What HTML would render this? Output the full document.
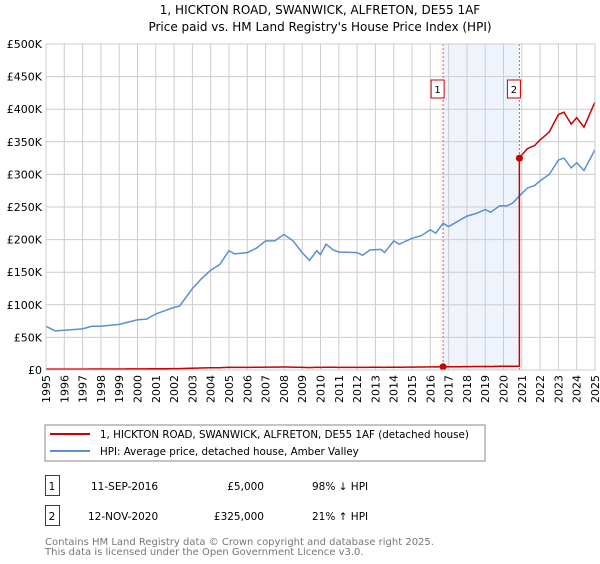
<!DOCTYPE html>
<html><head><meta charset="utf-8"><style>
body{margin:0;background:#fff;font-family:"DejaVu Sans","Liberation Sans",sans-serif;}
svg text{font-family:"DejaVu Sans","Liberation Sans",sans-serif;}
</style></head><body>
<svg id="chart" width="600" height="560" xmlns="http://www.w3.org/2000/svg">
<text x="320" y="14" font-size="12" text-anchor="middle">1, HICKTON ROAD, SWANWICK, ALFRETON, DE55 1AF</text>
<text x="320" y="31" font-size="12" text-anchor="middle">Price paid vs. HM Land Registry's House Price Index (HPI)</text>
<g id="plot"></g>
<g>
<rect x="45" y="425" width="440" height="36" fill="#fff" stroke="#888"/>
<line x1="50" y1="434" x2="90" y2="434" stroke="#cc0000" stroke-width="2"/>
<text x="100" y="438" font-size="10.3">1, HICKTON ROAD, SWANWICK, ALFRETON, DE55 1AF (detached house)</text>
<line x1="50" y1="451" x2="90" y2="451" stroke="#5b8fd4" stroke-width="2"/>
<text x="100" y="455" font-size="10.3">HPI: Average price, detached house, Amber Valley</text>
</g>
<g>
<rect x="45.5" y="475.5" width="14" height="20" fill="none" stroke="#cc0000"/>
<text x="52" y="490" font-size="10.5" text-anchor="middle">1</text>
<text x="91" y="490" font-size="10.5">11-SEP-2016</text>
<text x="264" y="490" font-size="10.5" text-anchor="end">£5,000</text>
<text x="312" y="490" font-size="10.5">98% ↓ HPI</text>
<rect x="45.5" y="505.5" width="14" height="20" fill="none" stroke="#cc0000"/>
<text x="52" y="520" font-size="10.5" text-anchor="middle">2</text>
<text x="88" y="520" font-size="10.5">12-NOV-2020</text>
<text x="264" y="520" font-size="10.5" text-anchor="end">£325,000</text>
<text x="312" y="520" font-size="10.5">21% ↑ HPI</text>
</g>
<text x="45" y="545" font-size="10" fill="#777">Contains HM Land Registry data © Crown copyright and database right 2025.</text>
<text x="45" y="555" font-size="10" fill="#777">This data is licensed under the Open Government Licence v3.0.</text>
</svg>
<script>
const hpiYears=[1995,1995.5,1996,1997,1997.5,1998,1999,2000,2000.5,2001,2001.5,2002,2002.3,2003,2003.5,2004,2004.5,2005,2005.3,2006,2006.5,2007,2007.5,2008,2008.5,2009,2009.4,2009.8,2010,2010.3,2010.7,2011,2012,2012.3,2012.7,2013.3,2013.5,2014,2014.3,2015,2015.5,2016,2016.3,2016.7,2017,2017.5,2018,2018.5,2019,2019.3,2019.8,2020.2,2020.5,2020.9,2021.3,2021.7,2022,2022.5,2023,2023.3,2023.7,2024,2024.4,2024.7,2025];
const hpiValues=[67,60,61,63,67,67,70,77,78,86,91,96,98,125,140,153,162,183,178,180,187,198,198,208,198,180,168,183,177,193,184,181,180,176,184,185,180,198,193,202,206,215,210,225,220,228,236,240,246,242,252,252,256,268,279,283,290,300,322,325,310,318,306,322,338];
const saleYears=[2016.7,2020.87];
const salePrices=[5,325];
const yTicks=[0,50,100,150,200,250,300,350,400,450,500];
const yTickLabels=["£0","£50K","£100K","£150K","£200K","£250K","£300K","£350K","£400K","£450K","£500K"];
const xTicks=[1995,1996,1997,1998,1999,2000,2001,2002,2003,2004,2005,2006,2007,2008,2009,2010,2011,2012,2013,2014,2015,2016,2017,2018,2019,2020,2021,2022,2023,2024,2025];
const L=46,R=595,T=44,B=370;
const xS=y=>L+(y-1995)/30*(R-L);
const yS=v=>B-v/500*(B-T);
const NS="http://www.w3.org/2000/svg";
const g=document.getElementById('plot');
function mk(t,a){const e=document.createElementNS(NS,t);for(const k in a)e.setAttribute(k,a[k]);g.appendChild(e);return e;}
function hpiAt(t){if(t<=hpiYears[0])return hpiValues[0];for(let i=1;i<hpiYears.length;i++){if(t<=hpiYears[i]){const f=(t-hpiYears[i-1])/(hpiYears[i]-hpiYears[i-1]);return hpiValues[i-1]+f*(hpiValues[i]-hpiValues[i-1]);}}return hpiValues[hpiValues.length-1];}
const shade=mk('rect',{x:xS(saleYears[0]),y:T,width:xS(saleYears[1])-xS(saleYears[0]),height:B-T,fill:'#eef3fc'});


xTicks.forEach((t,i)=>{const l=mk('line',{x1:xS(t),x2:xS(t),y1:T,y2:B,stroke:'#ccc'});


const tx=mk('text',{x:0,y:0,'font-size':11,'text-anchor':'end',transform:`translate(${xS(t)+4},${B+5}) rotate(-90)`});


tx.textContent=t;});
yTicks.forEach((v,i)=>{const l=mk('line',{x1:L,x2:R,y1:yS(v),y2:yS(v),stroke:'#ccc'});


const tx=mk('text',{x:L-4,y:yS(v)+4,'font-size':11,'text-anchor':'end'});


tx.textContent=yTickLabels[i];});
saleYears.forEach((s,i)=>{const l=mk('line',{x1:xS(s),x2:xS(s),y1:T,y2:B,stroke:'#e55','stroke-dasharray':'2,2'});


const bx=mk('rect',{x:xS(s)-12,y:80,width:13,height:18,fill:'#fff',stroke:'#cc0000'});


const t=mk('text',{x:xS(s)-5.5,y:93,'font-size':10,'text-anchor':'middle'});


t.textContent=i+1;});
const hp=mk('path',{d:hpiYears.map((y,i)=>(i?'L':'M')+xS(y).toFixed(1)+','+yS(hpiValues[i]).toFixed(1)).join(''),fill:'none',stroke:'#5b8fd4','stroke-width':1.5});


let pts=[];
const steps=[];for(let t=1995;t<=2025.001;t+=0.1)steps.push(t);
const allT=[...new Set([...steps,...hpiYears,...saleYears])].sort((a,b)=>a-b);
allT.forEach(t=>{let v;
if(t<saleYears[1])v=salePrices[0]*hpiAt(t)/hpiAt(saleYears[0]);
else v=salePrices[1]*hpiAt(t)/hpiAt(saleYears[1]);
if(t>=saleYears[1]&&pts.length&&t===saleYears[1])pts.push([xS(t),yS(salePrices[0]*hpiAt(t)/hpiAt(saleYears[0]))]);
pts.push([xS(t),yS(v)]);});
const rp=mk('path',{d:pts.map((p,i)=>(i?'L':'M')+p[0].toFixed(1)+','+p[1].toFixed(1)).join(''),fill:'none',stroke:'#cc0000','stroke-width':1.5});


saleYears.forEach((s,i)=>{const c=mk('circle',{cx:xS(s),cy:yS(salePrices[i]),r:3.5,fill:'#cc0000'});

});
const fr=mk('rect',{x:L,y:T,width:R-L,height:B-T,fill:'none',stroke:'#ccc'});


</script>
</body></html>
